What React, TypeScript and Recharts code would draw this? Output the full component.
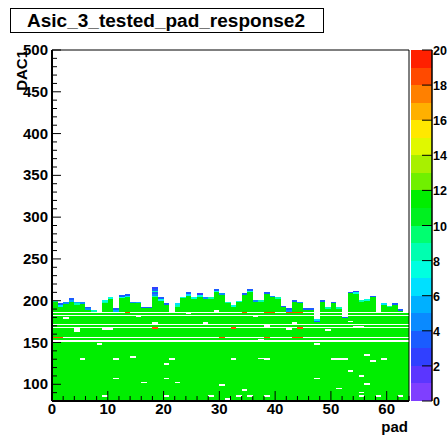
import React from 'react';
import { ScatterChart, XAxis, YAxis, ReferenceArea, BarChart, Bar } from 'recharts';

// ---- axes ----
const X_DOMAIN: [number, number] = [0, 64];
const Y_DOMAIN: [number, number] = [80, 500];
const xTicks = [0, 2, 4, 6, 8, 10, 12, 14, 16, 18, 20, 22, 24, 26, 28, 30, 32, 34, 36, 38, 40, 42, 44, 46, 48, 50, 52, 54, 56, 58, 60, 62, 64];
const yTicks = [80, 90, 100, 110, 120, 130, 140, 150, 160, 170, 180, 190, 200, 210, 220, 230, 240, 250, 260, 270, 280, 290, 300, 310, 320, 330, 340, 350, 360, 370, 380, 390, 400, 410, 420, 430, 440, 450, 460, 470, 480, 490, 500];
const zTicks = [0, 2, 4, 6, 8, 10, 12, 14, 16, 18, 20];

// ---- data ----
const BIN = 2; // DAC bin width
const BODY_COUNT = 11; // typical entries per filled cell
// upper edge (DAC) of the filled region for each pad 0..63
const padTops = [
  200, 197, 198, 203, 199, 198, 193, 188.5, 185, 201,
  204, 191, 207, 208, 199, 199, 193, 193, 216, 204,
  197, 185, 197, 205, 210, 204, 209, 204, 204, 214,
  209, 199, 195, 200, 209, 214, 201, 201, 210, 206,
  204, 194, 191, 201, 199, 191, 191, 178, 201, 192,
  199, 192, 181, 211, 212, 201, 202, 206, 185, 197,
  194, 197, 190, 185,
];
// counts of the top bins of each pad, from the top downwards
const capCounts: number[][] = [
  [8], [3, 6], [4], [3, 5], [5, 8], [4], [3, 4], [8], [], [7, 8],
  [7], [3, 5], [3, 7], [3, 6], [4], [5], [3], [3], [2, 3, 8, 3, 4, 8], [3, 7],
  [3], [], [6, 8], [7], [3, 6], [7], [2, 7], [4], [8], [3, 7],
  [4], [8], [7], [7], [3], [3, 7], [4], [8], [3], [4],
  [8], [3], [3, 4], [3], [4], [3], [3], [6, 3], [3], [8],
  [3], [8], [3], [3], [2, 7], [8], [7], [3], [], [6],
  [8], [3], [3], [],
];
// DAC codes with no entries at all (full-width empty rows) [low, high]
const emptyRows: [number, number][] = [
  [185, 186.5], [181.5, 183], [171, 172.5], [167, 168.5], [155.2, 156.8], [150.5, 152.5],
];
// isolated empty cells [pad, DAC low edge]
const holes: [number, number][] = [
  [2, 178], [4, 163], [4, 165], [5, 129], [8, 147], [9, 165], [10, 165], [11, 129], [11, 106],
  [14, 132], [15, 180], [16, 101], [18, 172], [20, 123], [20, 106], [21, 129], [22, 101],
  [24, 184], [27, 172], [29, 187], [30, 98], [32, 129], [31, 81], [34, 92], [36, 180],
  [37, 152], [37, 130], [38, 129], [38, 169], [42, 165], [43, 172], [47, 147], [47, 106],
  [49, 164], [50, 129], [51, 129], [52, 129], [51, 94], [53, 174], [53, 115], [54, 168],
  [55, 168], [55, 109], [56, 134], [56, 99], [57, 127], [59, 129], [55, 89],
  [9, 85], [20, 85], [28, 85], [33, 85], [35, 85], [38, 85], [55, 85], [58, 85], [62, 85],
];
// over-populated cells [pad, DAC low edge, count]
const hotCells: [number, number, number][] = [
  [13, 185, 18], [34, 185, 18], [38, 185, 18], [39, 185, 18], [42, 185, 18], [43, 185, 18], [44, 185, 18],
  [18, 166.5, 18], [32, 166.5, 18], [44, 166.5, 18],
  [0, 155, 18], [1, 155, 18], [30, 155, 18], [38, 155, 18], [43, 155, 18], [44, 155, 18],
];
// colour palette, one colour per unit of count 0..20
const paletteColors = [
  '#7f3fff', '#5b36ff', '#3040ff', '#1a5cff', '#0a8aff', '#00b0ff', '#00e0ff', '#00ffe0', '#00ffb0', '#00ff70',
  '#00f020', '#00ee00', '#70f000', '#a8f000', '#e0f800', '#ffe800', '#ffb000', '#ff8000', '#ff4a00', '#ff2000',
];

const FONT = '"Liberation Sans", Arial, Helvetica, sans-serif';
const colorFor = (c: number) => paletteColors[Math.max(0, Math.min(19, Math.floor(c)))];

function XTick(props: any) {
  const { x, y, payload } = props;
  const v = payload.value;
  const major = v % 10 === 0;
  return (
    <g>
      <line x1={x} y1={y} x2={x} y2={y - (major ? 10 : 5)} stroke="#000" strokeWidth={1} />
      {major && (
        <text x={x} y={y + 13} textAnchor="middle" fontSize={15} fontWeight="bold" fontFamily={FONT} fill="#000">
          {v}
        </text>
      )}
    </g>
  );
}

function YTick(props: any) {
  const { x, y, payload } = props;
  const v = payload.value;
  const major = v % 50 === 0;
  return (
    <g>
      <line x1={x} y1={y} x2={x + (major ? 9 : 5)} y2={y} stroke="#000" strokeWidth={1} />
      {major && (
        <text x={x - 4} y={y + 5} textAnchor="end" fontSize={15} fontWeight="bold" fontFamily={FONT} fill="#000">
          {v}
        </text>
      )}
    </g>
  );
}

function ZTick(props: any) {
  const { x, y, payload } = props;
  const v = payload.value;
  return (
    <g>
      <line x1={x} y1={y} x2={x - 10} y2={y} stroke="#000" strokeWidth={1} />
      <text x={x + 1} y={y + 5} textAnchor="start" fontSize={12.5} fontWeight="bold" fontFamily={FONT} fill="#000">
        {v}
      </text>
    </g>
  );
}

const cell = (key: string, x1: number, x2: number, y1: number, y2: number, fill: string) => (
  <ReferenceArea
    key={key}
    x1={x1}
    x2={x2}
    y1={y1}
    y2={y2}
    fill={fill}
    fillOpacity={1}
    stroke="none"
    shapeRendering="crispEdges"
    ifOverflow="visible"
  />
);

export default function App() {
  const areas: React.ReactNode[] = [];
  padTops.forEach((top, pad) => {
    areas.push(cell(`b${pad}`, pad, pad + 1, Y_DOMAIN[0], top, colorFor(BODY_COUNT)));
  });
  capCounts.forEach((caps, pad) => {
    caps.forEach((c, i) => {
      const top = padTops[pad];
      areas.push(cell(`c${pad}_${i}`, pad, pad + 1, top - BIN * (i + 1), top - BIN * i, colorFor(c)));
    });
  });
  emptyRows.forEach(([lo, hi], i) => {
    areas.push(cell(`e${i}`, X_DOMAIN[0], X_DOMAIN[1], lo, hi, '#ffffff'));
  });
  holes.forEach(([pad, lo], i) => {
    areas.push(cell(`h${i}`, pad, pad + 1, lo, lo + BIN, '#ffffff'));
  });
  hotCells.forEach(([pad, lo, c], i) => {
    areas.push(cell(`o${i}`, pad, pad + 1, lo, lo + BIN, colorFor(c)));
  });

  const paletteRow = [
    paletteColors.reduce((acc: any, _c, i) => {
      acc[`z${i}`] = 1;
      return acc;
    }, { name: 'z' }),
  ];

  return (
    <div style={{ position: 'absolute', left: 0, top: 0, width: 448, height: 435, overflow: 'hidden', background: '#fff' }}>
      <div style={{ position: 'absolute', left: 0, top: 0 }}>
        <ScatterChart width={448} height={435} margin={{ top: 50, right: 39, bottom: 0, left: 0 }}>
          {areas}
          <ReferenceArea x1={X_DOMAIN[0]} x2={X_DOMAIN[1]} y1={Y_DOMAIN[0]} y2={Y_DOMAIN[1]} fill="none" fillOpacity={0} stroke="#000" strokeWidth={1} ifOverflow="visible" />
          <XAxis
            type="number"
            dataKey="x"
            domain={X_DOMAIN}
            ticks={xTicks}
            interval={0}
            allowDataOverflow
            height={34}
            tickLine={false}
            tickSize={0}
            tickMargin={0}
            tick={<XTick />}
            axisLine={{ stroke: '#000', strokeWidth: 2 }}
          />
          <YAxis
            type="number"
            dataKey="y"
            domain={Y_DOMAIN}
            ticks={yTicks}
            interval={0}
            allowDataOverflow
            width={52}
            tickLine={false}
            tickSize={0}
            tickMargin={0}
            tick={<YTick />}
            axisLine={{ stroke: '#000', strokeWidth: 2 }}
          />
        </ScatterChart>
      </div>
      <div style={{ position: 'absolute', left: 411, top: 0 }}>
        <BarChart width={37} height={435} data={paletteRow} margin={{ top: 50, right: 0, bottom: 34, left: 0 }} barCategoryGap={0} barGap={0}>
          <XAxis dataKey="name" hide />
          <YAxis
            orientation="right"
            type="number"
            domain={[0, 20]}
            ticks={zTicks}
            interval={0}
            allowDataOverflow
            width={16}
            tickLine={false}
            tickSize={0}
            tickMargin={0}
            tick={<ZTick />}
            axisLine={{ stroke: '#000', strokeWidth: 1.5 }}
          />
          {paletteColors.map((c, i) => (
            <Bar key={i} dataKey={`z${i}`} stackId="p" fill={c} isAnimationActive={false} shapeRendering="crispEdges" />
          ))}
        </BarChart>
      </div>
      <svg width={448} height={435} style={{ position: 'absolute', left: 0, top: 0, pointerEvents: 'none' }}>
        <rect x={10.5} y={8.5} width={313} height={24} fill="#fff" stroke="#000" strokeWidth={1} />
        <text x={166} y={26.5} textAnchor="middle" fontSize={18} fontWeight="bold" fontFamily={FONT} fill="#000" textLength={278} lengthAdjust="spacingAndGlyphs">
          Asic_3_tested_pad_response2
        </text>
        <text transform="translate(27,50) rotate(-90)" textAnchor="end" fontSize={15} fontWeight="bold" fontFamily={FONT} fill="#000">
          DAC1
        </text>
        <text x={408} y={432} textAnchor="end" fontSize={15} fontWeight="bold" fontFamily={FONT} fill="#000">
          pad
        </text>
      </svg>
    </div>
  );
}
